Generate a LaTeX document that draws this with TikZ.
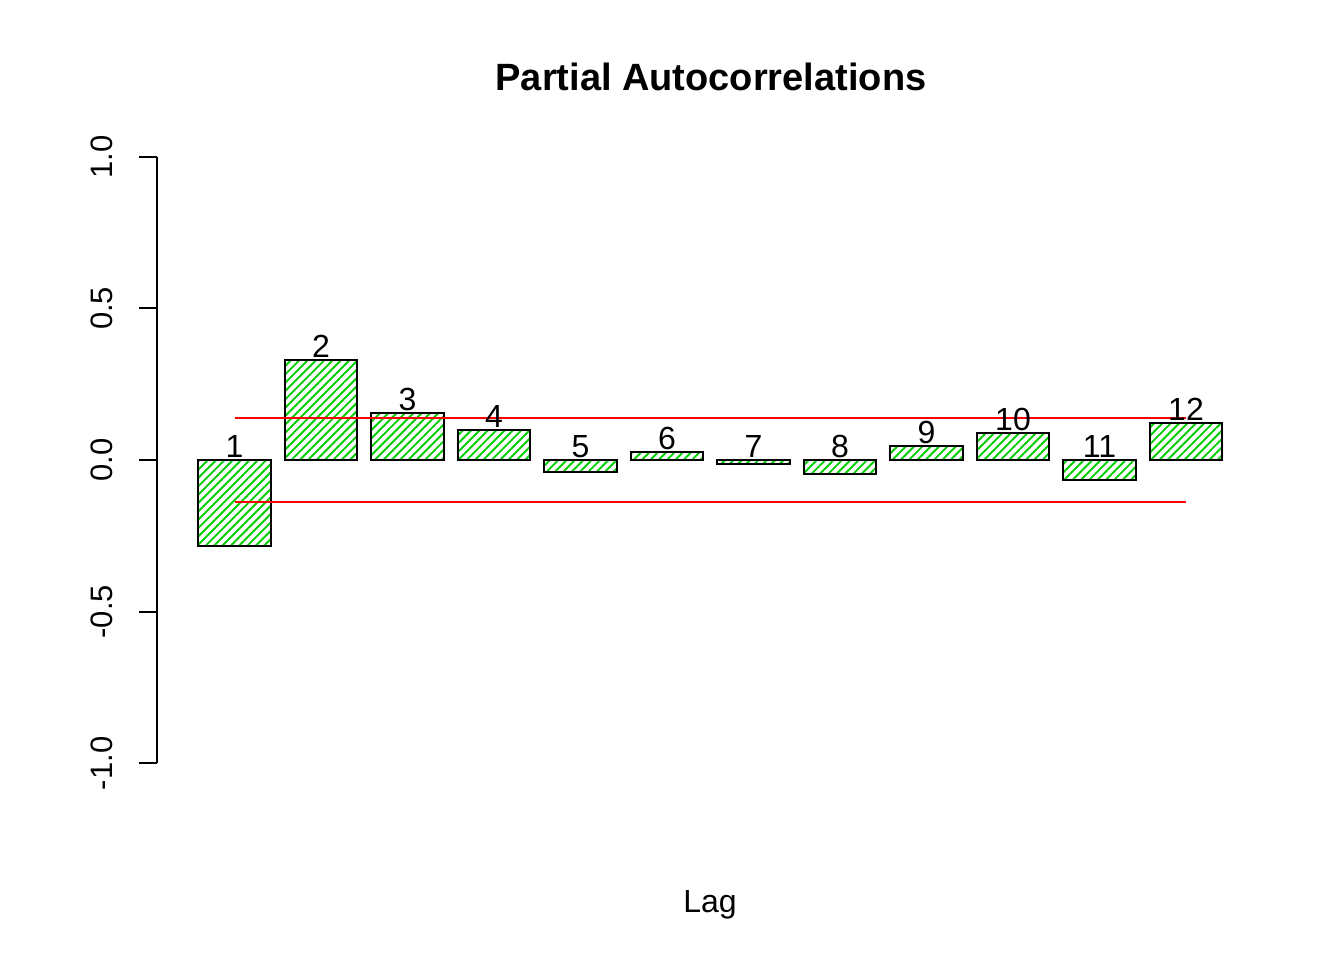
\documentclass[tikz,border=0pt]{standalone}
\usepackage{fontspec}
\setmainfont{Liberation Sans}
\usetikzlibrary{patterns.meta}
\definecolor{hatchgreen}{RGB}{0,205,0}
\definecolor{limred}{RGB}{255,0,0}
\begin{document}
\begin{tikzpicture}[x=1pt,y=-1pt,
  bar/.style={draw=black,line width=2pt,
    pattern={Lines[distance=5.9pt,angle=45,line width=1.9pt]},pattern color=hatchgreen},
  lbl/.style={font=\fontsize{32}{38}\selectfont,anchor=base,inner sep=0pt},
  ticklbl/.style={font=\fontsize{31}{36}\selectfont,anchor=base,inner sep=0pt,rotate=90},
  titlestyle/.style={font=\fontsize{38}{44}\selectfont\bfseries,anchor=base,inner sep=0pt},
  axisline/.style={draw=black,line width=1.8pt},
  limline/.style={draw=limred,line width=1.6pt}]
\useasboundingbox (0,0) rectangle (1344,960);
% title and x label
\node[titlestyle] (title) at (711,90.7) {Partial Autocorrelations};
\node[lbl] (xlab) at (710,912) {Lag};
% y axis
\coordinate (ytop) at (157,156.7);
\coordinate (ybot) at (157,763.3);
\draw[axisline] (ytop) -- (ybot);
\foreach \k/\t/\yy in {1/1.0/156.7, 2/0.5/308.35, 3/0.0/460, 4/-0.5/611.65, 5/-1.0/763.3}{
  \coordinate (tk\k) at (157,\yy);
  \coordinate (tkend\k) at (138.5,\yy);
  \draw[axisline] (tk\k) -- (tkend\k);
  \node[ticklbl] (tl\k) at (112,\yy) {\t};
}
% bars
\foreach \i/\yt/\yb in {1/460/546, 2/360/460, 3/413/460, 4/430/460, 5/460/472, 6/452/460,
                         7/460/464, 8/460/474, 9/446/460, 10/433/460, 11/460/480, 12/423/460}{
  \pgfmathsetmacro{\cx}{234.5+86.5*(\i-1)}
  \coordinate (b\i tl) at (\cx-36.25,\yt);
  \coordinate (b\i br) at (\cx+36.25,\yb);
  \draw[bar] (b\i tl) rectangle (b\i br);
  \coordinate (c\i) at (\cx,\yt);
}
% confidence limits
\coordinate (ua) at (234.5,417.7);
\coordinate (ub) at (1186,417.7);
\coordinate (la) at (234.5,501.7);
\coordinate (lb) at (1186,501.7);
\draw[limline] (ua) -- (ub);
\draw[limline] (la) -- (lb);
% bar labels
\foreach \i in {1,...,12}{
  \node[lbl] (n\i) at ([yshift=2.5pt]c\i) {\i};
}
\end{tikzpicture}
\end{document}
